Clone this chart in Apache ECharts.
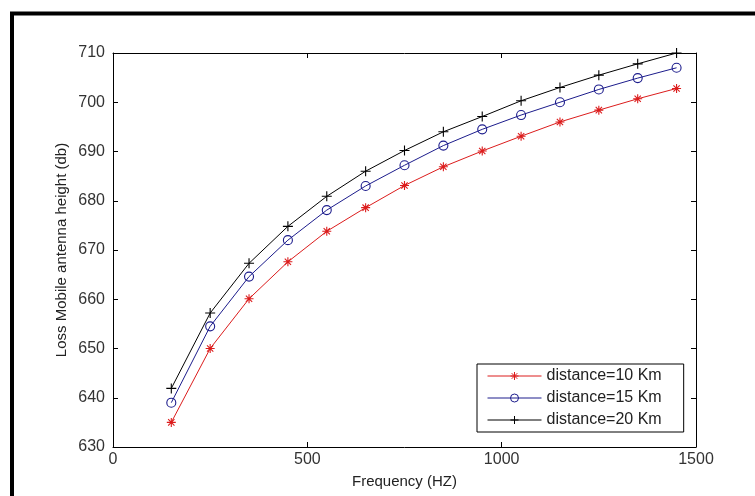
<!DOCTYPE html>
<html>
<head>
<meta charset="utf-8">
<script src="https://cdn.jsdelivr.net/npm/echarts@6/dist/echarts.min.js"></script>
<style>
  html, body { margin: 0; padding: 0; background: #fff; }
  #chart { width: 755px; height: 496px; }
</style>
</head>
<body>
<div id="chart"></div>
<script>
// frequency points (HZ)
const freq = [150, 250, 350, 450, 550, 650, 750, 850, 950, 1050, 1150, 1250, 1350, 1450]
// loss values (db)
const loss10 = [635.0, 650.0, 660.1, 667.6, 673.8, 678.6, 683.1, 686.9, 690.1, 693.1, 696.0, 698.4, 700.7, 702.8]
const loss15 = [639.0, 654.5, 664.6, 672.0, 678.1, 683.0, 687.2, 691.2, 694.5, 697.4, 700.0, 702.6, 704.9, 707.0]
const loss20 = [641.9, 657.2, 667.3, 674.8, 680.9, 686.0, 690.2, 694.0, 697.1, 700.3, 703.0, 705.5, 707.8, 710.0]
const seriesNames = ['distance=10 Km', 'distance=15 Km', 'distance=20 Km']

const fontFam = '"Liberation Sans", Arial, sans-serif'
const starPath = 'path://M0,-10L0,10M-10,0L10,0M-7,-7L7,7M-7,7L7,-7'
const plusPath = 'path://M0,-10L0,10M-10,0L10,0'

const chart = echarts.init(document.getElementById('chart'))

// fresh objects for every axis, so nothing is shared between them
const tick = () => ({ show: true, inside: true, length: 5, lineStyle: { color: '#000', width: 1 } })
const line = () => ({ show: true, onZero: false, lineStyle: { color: '#000', width: 1 } })

function mkSeries(name, values, color, symbol, size, fill) {
    return {
        name: name,
        type: 'line',
        data: freq.map((f, i) => [f, values[i]]),
        symbol: symbol,
        symbolSize: size,
        showAllSymbol: true,
        lineStyle: { color: color, width: 1 },
        itemStyle: { color: fill, borderColor: color, borderWidth: 1.1 },
        emphasis: { disabled: true },
        animation: false
    }
}

chart.setOption({
    backgroundColor: '#fff',
    animation: false,
    grid: { left: 113, top: 53, right: 59, bottom: 49, show: false },
    graphic: [{
        type: 'rect',
        shape: { x: 12, y: 13.5, width: 900, height: 700 },
        style: { fill: 'none', stroke: '#000', lineWidth: 4 },
        silent: true
    }],
    legend: {
        orient: 'vertical',
        left: 477,
        top: 364,
        padding: [4, 22, 4, 10],
        itemWidth: 54,
        itemHeight: 10,
        itemGap: 6,
        backgroundColor: '#fff',
        borderColor: '#000',
        borderWidth: 1,
        borderRadius: 0,
        selectedMode: false,
        lineStyle: { width: 1 },
        itemStyle: { borderWidth: 1 },
        textStyle: { color: '#222', fontSize: 16, lineHeight: 16, fontFamily: fontFam },
        data: seriesNames
    },
    xAxis: [
        {
            type: 'value', min: 0, max: 1500, interval: 500,
            name: 'Frequency (HZ)', nameLocation: 'middle', nameGap: 27,
            nameMoveOverlap: false,
            nameTextStyle: { color: '#222', fontSize: 15, fontFamily: fontFam },
            axisLine: line(), axisTick: tick(),
            axisLabel: { margin: 5, color: '#333', fontSize: 16, fontFamily: fontFam, formatter: v => String(v) },
            splitLine: { show: false }
        },
        {
            type: 'value', min: 0, max: 1500, interval: 500, position: 'top',
            axisLine: line(), axisTick: tick(),
            axisLabel: { show: false }, splitLine: { show: false }
        }
    ],
    yAxis: [
        {
            type: 'value', min: 630, max: 710, interval: 10,
            name: 'Loss Mobile antenna height (db)', nameLocation: 'middle', nameGap: 44,
            nameRotate: 90, nameMoveOverlap: false,
            nameTextStyle: { color: '#222', fontSize: 15, fontFamily: fontFam },
            axisLine: line(), axisTick: tick(),
            axisLabel: { margin: 8, color: '#333', fontSize: 16, fontFamily: fontFam, formatter: v => String(v) },
            splitLine: { show: false }
        },
        {
            type: 'value', min: 630, max: 710, interval: 10, position: 'right',
            axisLine: line(), axisTick: tick(),
            axisLabel: { show: false }, splitLine: { show: false }
        }
    ],
    series: [
        mkSeries(seriesNames[0], loss10, '#dc1c1c', starPath, 9, '#dc1c1c'),
        mkSeries(seriesNames[1], loss15, '#1c1c8c', 'circle', 9, 'rgba(0,0,0,0)'),
        mkSeries(seriesNames[2], loss20, '#000000', plusPath, 10, '#000000')
    ]
})
</script>
</body>
</html>
